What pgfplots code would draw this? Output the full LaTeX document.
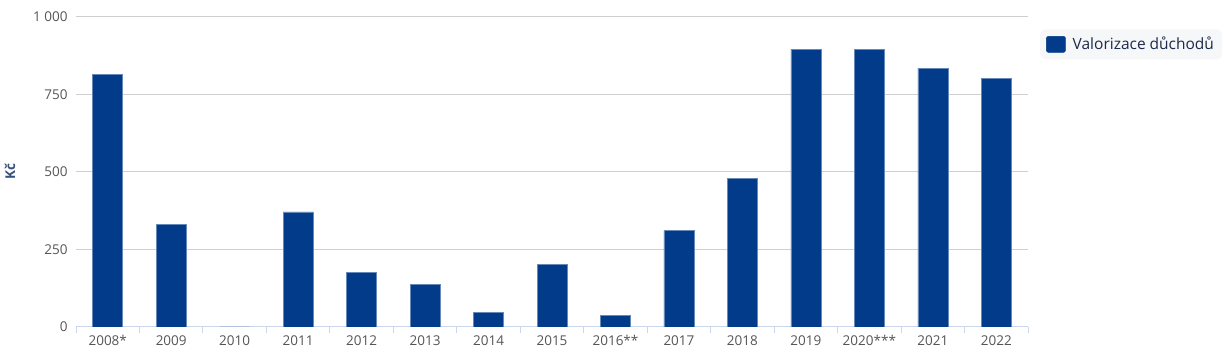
\documentclass[border=0pt]{standalone}
\usepackage{pgfplots}
\pgfplotsset{compat=1.18}
\usepackage{fontspec}
\setmainfont{Open Sans}
\definecolor{barblue}{HTML}{023B8A}
\definecolor{gridc}{HTML}{CFCFCF}
\definecolor{axc}{HTML}{CCD6EB}
\definecolor{tickc}{HTML}{555555}
\definecolor{titc}{HTML}{34527A}
\definecolor{legtxt}{HTML}{1C2B4A}
\definecolor{legbg}{HTML}{F6F7F9}
\begin{document}
\begin{tikzpicture}
\path[use as bounding box] (0,0) rectangle (1228bp,361bp);
\begin{axis}[
  at={(76bp,34bp)}, anchor=south west,
  scale only axis, width=952bp, height=310bp,
  xmin=-0.5, xmax=14.5, ymin=0, ymax=1000,
  axis x line=bottom, axis y line=left,
  axis line style={-},
  x axis line style={draw=axc, line width=1bp},
  y axis line style={draw=none},
  xtick={-0.5,0.5,...,14.5},
  x tick label as interval,
  xticklabels={2008*,2009,2010,2011,2012,2013,2014,2015,2016**,2017,2018,2019,2020***,2021,2022},
  xtick style={draw=axc, line width=1bp},
  xtick align=outside, major tick length=6bp,
  ytick={0,250,500,750,1000},
  yticklabels={0,250,500,750,1 000},
  ytick style={draw=none},
  ymajorgrids, grid style={draw=gridc, line width=1bp},
  tick label style={font=\fontsize{13.5bp}{15bp}\selectfont, text=tickc},
  xticklabel style={yshift=1bp},
  yticklabel style={xshift=-2bp},
  /pgf/number format/assume math mode=true,
  ylabel={\textbf{Kč}},
  ylabel style={font=\fontsize{13.5bp}{15bp}\selectfont, text=titc, at={(-66bp,155bp)}, anchor=center},
  ybar, bar width=30bp,
  legend style={at={(1.0126,0.961)}, anchor=north west, fill=legbg, draw=none, rounded corners=5bp,
    font=\fontsize{15.5bp}{17bp}\selectfont, text=legtxt, inner xsep=6bp, inner ysep=6bp,
    column sep=5bp},
  legend image code/.code={\fill[barblue, rounded corners=2bp] (0bp,-8bp) rectangle (19bp,8bp);},
]
\addplot[fill=barblue, draw=barblue!60, line width=0.5bp] coordinates {
(0,815) (1,332) (2,0) (3,371) (4,175) (5,138) (6,46) (7,202) (8,38) (9,311) (10,480) (11,896) (12,896) (13,834) (14,802)};
\addlegendentry{Valorizace důchodů}
\end{axis}
\end{tikzpicture}
\end{document}
